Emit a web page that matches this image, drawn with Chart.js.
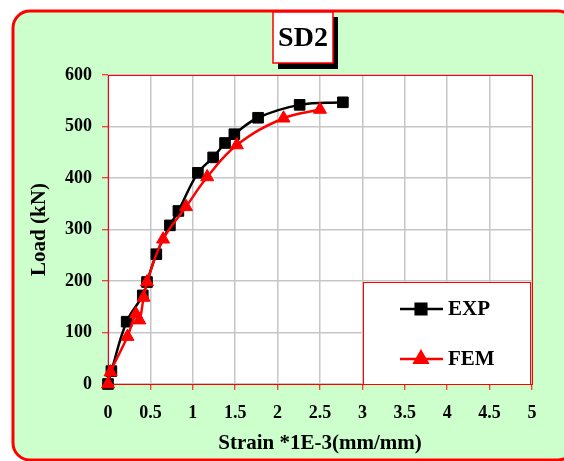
<!DOCTYPE html>
<html>
<head>
<meta charset="utf-8">
<script src="https://cdn.jsdelivr.net/npm/chart.js@4"></script>
<style>
  html, body { margin: 0; padding: 0; background: #fff; }
  #wrap { width: 564px; height: 461px; }
</style>
</head>
<body>
<div id="wrap"><canvas id="sdChart" width="564" height="461"></canvas></div>
<script>
// SD2 load-strain curves
const chartTitle = 'SD2';
const xTitle = 'Strain *1E-3(mm/mm)';
const yTitle = 'Load (kN)';

const expStrain = [0, 0.04, 0.22, 0.41, 0.46, 0.57, 0.73, 0.83, 1.06, 1.24, 1.38, 1.49, 1.77, 2.26, 2.77];
const expLoad   = [0, 25, 121, 172, 198, 252, 308, 336, 410, 440, 468, 485, 517, 542, 547];

const femStrain = [0, 0.03, 0.23, 0.33, 0.37, 0.42, 0.46, 0.65, 0.92, 1.17, 1.52, 2.07, 2.5];
const femLoad   = [0, 23, 92, 136, 124, 168, 198, 281, 344, 402, 464, 516, 533];

const FONT = 'Liberation Serif';
Chart.defaults.font.family = FONT;
Chart.defaults.color = '#000';

function toPoints(xs, ys) {
  return xs.map((x, i) => ({ x: x, y: ys[i] }));
}

function roundRectPath(ctx, x, y, w, h, r) {
  ctx.beginPath();
  ctx.moveTo(x + r, y);
  ctx.arcTo(x + w, y, x + w, y + h, r);
  ctx.arcTo(x + w, y + h, x, y + h, r);
  ctx.arcTo(x, y + h, x, y, r);
  ctx.arcTo(x, y, x + w, y, r);
  ctx.closePath();
}

const framePlugin = {
  id: 'frame',
  beforeDraw(chart) {
    const ctx = chart.ctx;
    ctx.save();
    ctx.fillStyle = '#fff';
    ctx.fillRect(0, 0, chart.width, chart.height);
    roundRectPath(ctx, 13, 11, 562, 449, 17);
    ctx.fillStyle = '#ccffcc';
    ctx.fill();
    ctx.lineWidth = 3;
    ctx.strokeStyle = '#ff0000';
    ctx.stroke();
    // white plot area
    const a = chart.chartArea;
    ctx.fillStyle = '#fff';
    ctx.fillRect(a.left, a.top, a.right - a.left, a.bottom - a.top);
    ctx.restore();
  },
  afterDraw(chart) {
    const ctx = chart.ctx;
    const a = chart.chartArea;
    ctx.save();
    // plot border
    ctx.strokeStyle = '#ff0000';
    ctx.lineWidth = 1;
    ctx.strokeRect(a.left + 0.5, a.top + 0.5, a.right - a.left, a.bottom - a.top);

    // title box with shadow
    ctx.fillStyle = '#000';
    ctx.fillRect(278, 17, 60, 52);
    ctx.fillStyle = '#fff';
    ctx.fillRect(273, 12, 60, 51);
    ctx.lineWidth = 1.5;
    ctx.strokeStyle = '#ff0000';
    ctx.strokeRect(273, 12, 60, 51);
    ctx.fillStyle = '#000';
    ctx.font = 'bold 28px "' + FONT + '"';
    ctx.textAlign = 'center';
    ctx.textBaseline = 'middle';
    ctx.fillText(chartTitle, 303, 39);

    // legend box
    const lx = 363, ly = 282, lw = 167, lh = 102;
    ctx.fillStyle = '#fff';
    ctx.fillRect(lx, ly, lw, lh);
    ctx.lineWidth = 1;
    ctx.strokeStyle = '#ff0000';
    ctx.strokeRect(lx + 0.5, ly + 0.5, lw, lh);
    const rows = [309, 359];
    chart.data.datasets.forEach((ds, i) => {
      const y = rows[i];
      ctx.strokeStyle = ds.borderColor;
      ctx.lineWidth = ds.borderWidth;
      ctx.beginPath();
      ctx.moveTo(400, y);
      ctx.lineTo(443, y);
      ctx.stroke();
      Chart.helpers.drawPoint(ctx, {
        pointStyle: ds.pointStyle,
        radius: ds.pointRadius,
        borderWidth: ds.pointBorderWidth,
        rotation: 0
      }, 421, y);
      ctx.fillStyle = ds.pointBackgroundColor;
      ctx.strokeStyle = ds.pointBorderColor;
      ctx.lineWidth = ds.pointBorderWidth;
      ctx.fill();
      ctx.stroke();
      ctx.fillStyle = '#000';
      ctx.font = 'bold 21px "' + FONT + '"';
      ctx.textAlign = 'left';
      ctx.textBaseline = 'middle';
      ctx.fillText(ds.label, 448, y + 1);
    });
    ctx.restore();
  }
};

const ctx = document.getElementById('sdChart').getContext('2d');
new Chart(ctx, {
  type: 'scatter',
  data: {
    datasets: [
      {
        label: 'EXP',
        data: toPoints(expStrain, expLoad),
        showLine: true,
        borderColor: '#000000',
        borderWidth: 2.5,
        pointStyle: 'rect',
        pointRadius: 7.5,
        pointBackgroundColor: '#000000',
        pointBorderColor: '#000000',
        pointBorderWidth: 1,
        tension: 0.4,
        clip: false,
        order: 1
      },
      {
        label: 'FEM',
        data: toPoints(femStrain, femLoad),
        showLine: true,
        borderColor: '#ff0000',
        borderWidth: 2.5,
        pointStyle: 'triangle',
        pointRadius: 7.5,
        pointBackgroundColor: '#ff0000',
        pointBorderColor: '#ff0000',
        pointBorderWidth: 1,
        tension: 0.4,
        clip: false,
        order: 0
      }
    ]
  },
  options: {
    responsive: false,
    animation: false,
    events: [],
    layout: { padding: { left: 0, top: 75, right: 32, bottom: 0 } },
    plugins: {
      legend: { display: false },
      tooltip: { enabled: false }
    },
    scales: {
      x: {
        type: 'linear',
        min: 0,
        max: 5,
        afterFit: s => { s.height = 77; },
        grid: { color: '#c6c6c6', lineWidth: 1.5, tickColor: '#ff0000', tickLength: 6, tickWidth: 1 },
        border: { color: '#ff0000', width: 1 },
        ticks: {
          stepSize: 0.5,
          padding: 13,
          color: '#000',
          font: { size: 18, weight: 'bold' },
          maxRotation: 0,
          callback: v => String(Math.round(v * 10) / 10)
        },
        title: {
          display: true,
          text: xTitle,
          color: '#000',
          font: { size: 21, weight: 'bold' },
          padding: { top: 0, bottom: 5 }
        }
      },
      y: {
        type: 'linear',
        min: 0,
        max: 600,
        afterFit: s => { s.width = 108; },
        grid: { color: '#c6c6c6', lineWidth: 1.5, tickColor: '#ff0000', tickLength: 6, tickWidth: 1 },
        border: { color: '#ff0000', width: 1 },
        ticks: {
          stepSize: 100,
          padding: 10,
          color: '#000',
          font: { size: 18, weight: 'bold' }
        },
        title: {
          display: true,
          text: yTitle,
          color: '#000',
          font: { size: 21, weight: 'bold' },
          padding: { top: 27, bottom: 0 }
        }
      }
    }
  },
  plugins: [framePlugin]
});
</script>
</body>
</html>
